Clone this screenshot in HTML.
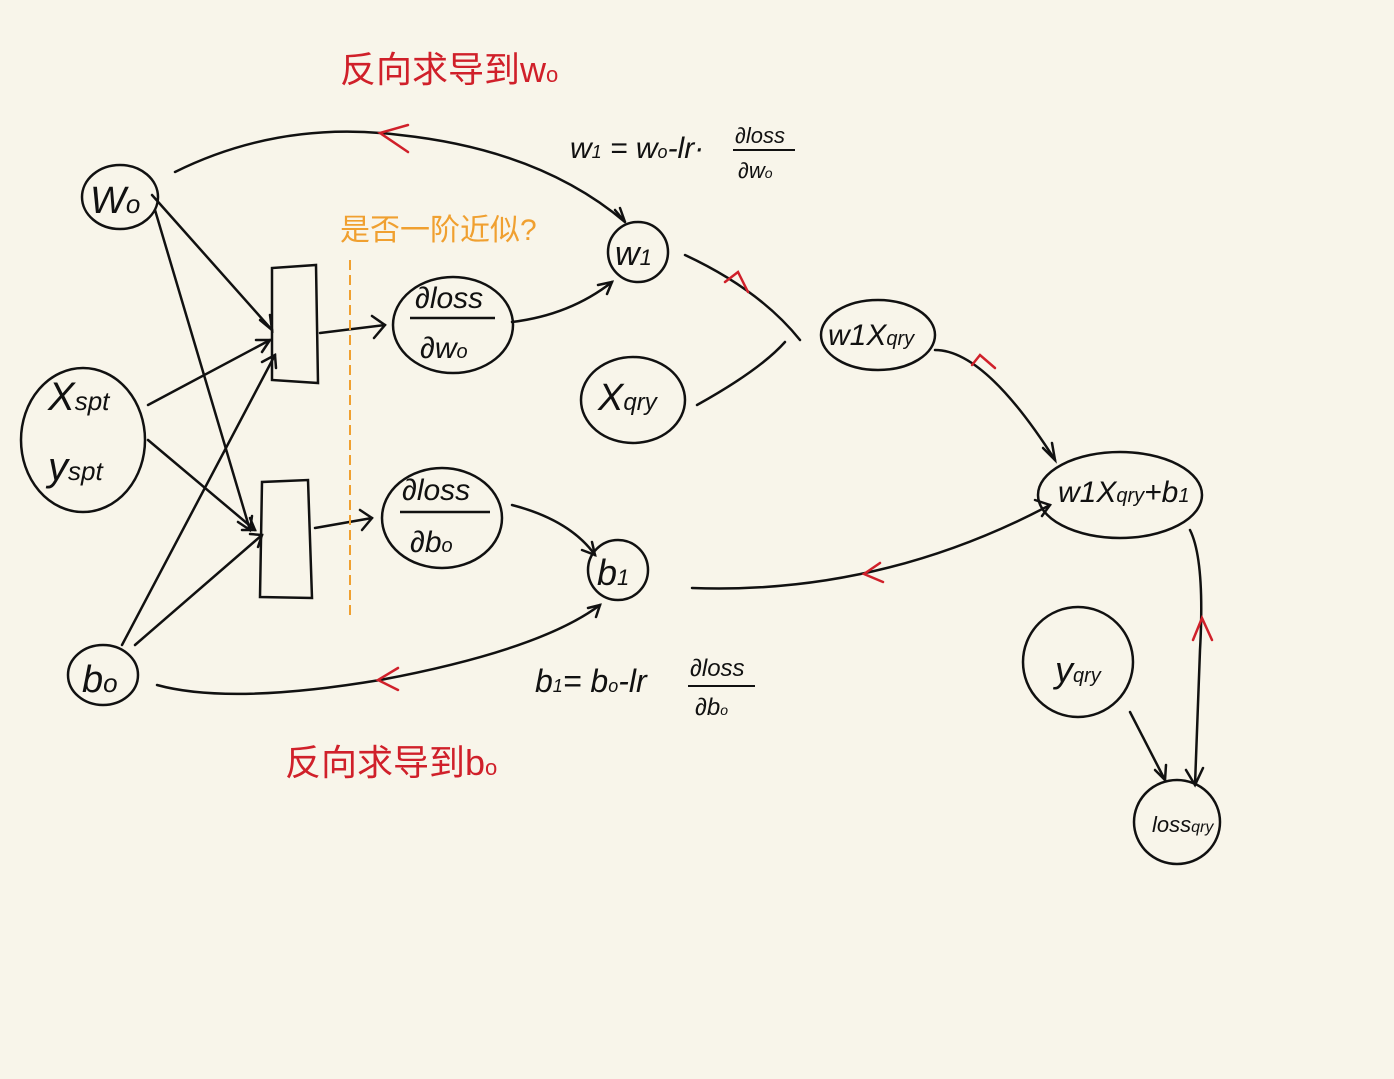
<!DOCTYPE html>
<html><head><meta charset="utf-8"><style>
html,body{margin:0;padding:0;background:#f8f5ea;}
svg{display:block}
text{font-family:"Liberation Sans","Noto Sans CJK SC",sans-serif;}
</style></head><body>
<svg width="1394" height="1079" viewBox="0 0 1394 1079" xmlns="http://www.w3.org/2000/svg">
<rect width="1394" height="1079" fill="#f8f5ea"/>
<g fill="none" stroke="#111" stroke-width="2.5" stroke-linecap="round">
<!-- nodes -->
<ellipse cx="120" cy="197" rx="38" ry="32"/>
<ellipse cx="83" cy="440" rx="62" ry="72"/>
<ellipse cx="103" cy="675" rx="35" ry="30"/>
<path d="M272 268 L272 380 L318 383 L316 265 Z"/>
<path d="M262 482 L260 597 L312 598 L308 480 Z"/>
<ellipse cx="453" cy="325" rx="60" ry="48"/>
<ellipse cx="442" cy="518" rx="60" ry="50"/>
<ellipse cx="638" cy="252" rx="30" ry="30"/>
<ellipse cx="633" cy="400" rx="52" ry="43"/>
<ellipse cx="618" cy="570" rx="30" ry="30"/>
<ellipse cx="878" cy="335" rx="57" ry="35"/>
<ellipse cx="1120" cy="495" rx="82" ry="43"/>
<ellipse cx="1078" cy="662" rx="55" ry="55"/>
<ellipse cx="1177" cy="822" rx="43" ry="42"/>
<!-- input lines -->
<path d="M152 195 L272 330"/><path d="M260 320 L272 330 L270 315"/>
<path d="M155 210 L250 530"/><path d="M238 522 L250 530 L252 516"/>
<path d="M148 405 L270 340"/><path d="M256 340 L270 340 L262 352"/>
<path d="M148 440 L255 530"/><path d="M242 530 L255 530 L250 518"/>
<path d="M122 645 L275 355"/><path d="M262 362 L275 355 L276 368"/>
<path d="M135 645 L262 535"/><path d="M250 534 L262 535 L258 547"/>
<path d="M320 333 L385 325"/><path d="M372 316 L385 325 L374 338"/>
<path d="M315 528 L372 518"/><path d="M360 510 L372 518 L362 530"/>
<path d="M512 322 Q570 315 612 282"/><path d="M598 285 L612 282 L607 294"/>
<path d="M512 505 Q570 520 595 555"/><path d="M582 550 L595 555 L592 542"/>
<!-- long curves -->
<path d="M175 172 Q280 120 400 135 Q540 150 625 222"/><path d="M615 210 L625 222 L620 208"/>
<path d="M157 685 Q230 705 380 680 Q540 650 600 605"/><path d="M588 608 L600 605 L596 617"/>
<path d="M692 588 Q880 595 1050 505"/><path d="M1035 500 L1050 505 L1042 516"/>
<path d="M685 255 Q760 290 800 340"/>
<path d="M697 405 Q760 370 785 342"/>
<path d="M935 350 Q985 350 1055 460"/><path d="M1043 448 L1055 460 L1052 443"/>
<path d="M1190 530 Q1205 560 1200 650 L1195 785"/><path d="M1186 770 L1195 785 L1203 768"/>
<path d="M1130 712 L1165 780"/><path d="M1155 770 L1165 780 L1166 765"/>
</g>
<!-- red arrows -->
<g fill="none" stroke="#d0202a" stroke-width="2.5" stroke-linecap="round">
<path d="M408 125 L380 133 L408 152"/>
<path d="M398 668 L378 680 L398 690"/>
<path d="M880 563 L864 574 L883 582"/>
<path d="M725 282 L738 272 L748 292"/>
<path d="M972 365 L980 355 L995 368"/>
<path d="M1193 640 L1202 618 L1212 640"/>
</g>
<path d="M350 260 L350 615" stroke="#f0a030" stroke-width="2" stroke-dasharray="10 5" fill="none"/>
<!-- text -->
<g fill="#111" font-style="italic">
<text x="90" y="213" font-size="38">W<tspan font-size="26">o</tspan></text>
<text x="48" y="410" font-size="40">X<tspan font-size="26">spt</tspan></text>
<text x="48" y="480" font-size="40">y<tspan font-size="26">spt</tspan></text>
<text x="82" y="692" font-size="38">b<tspan font-size="26">o</tspan></text>
<text x="415" y="308" font-size="30">∂loss</text>
<line x1="410" y1="318" x2="495" y2="318" stroke="#111" stroke-width="2.5"/>
<text x="420" y="358" font-size="30">∂w<tspan font-size="20">o</tspan></text>
<text x="402" y="500" font-size="30">∂loss</text>
<line x1="400" y1="512" x2="490" y2="512" stroke="#111" stroke-width="2.5"/>
<text x="410" y="552" font-size="30">∂b<tspan font-size="20">o</tspan></text>
<text x="615" y="265" font-size="34">w<tspan font-size="22">1</tspan></text>
<text x="598" y="410" font-size="38">X<tspan font-size="24">qry</tspan></text>
<text x="597" y="585" font-size="36">b<tspan font-size="22">1</tspan></text>
<text x="828" y="345" font-size="30">w1X<tspan font-size="20">qry</tspan></text>
<text x="1058" y="502" font-size="30">w1X<tspan font-size="20">qry</tspan>+b<tspan font-size="20">1</tspan></text>
<text x="1055" y="682" font-size="36">y<tspan font-size="20">qry</tspan></text>
<text x="1152" y="832" font-size="22">loss<tspan font-size="16">qry</tspan></text>
<text x="570" y="158" font-size="30">w<tspan font-size="18">1</tspan> = w<tspan font-size="18">o</tspan>-lr·</text>
<text x="735" y="143" font-size="22">∂loss</text>
<line x1="733" y1="150" x2="795" y2="150" stroke="#111" stroke-width="2"/>
<text x="738" y="178" font-size="22">∂w<tspan font-size="14">o</tspan></text>
<text x="535" y="692" font-size="32">b<tspan font-size="18">1</tspan>= b<tspan font-size="18">o</tspan>-lr</text>
<text x="690" y="676" font-size="24">∂loss</text>
<line x1="688" y1="686" x2="755" y2="686" stroke="#111" stroke-width="2"/>
<text x="695" y="715" font-size="24">∂b<tspan font-size="14">o</tspan></text>
</g>
<text x="340" y="82" font-size="36" fill="#d0202a">反向求导到w<tspan font-size="22">o</tspan></text>
<text x="285" y="775" font-size="36" fill="#d0202a">反向求导到b<tspan font-size="22">o</tspan></text>
<text x="340" y="240" font-size="30" fill="#f0a030">是否一阶近似?</text>
</svg>
</body></html>
